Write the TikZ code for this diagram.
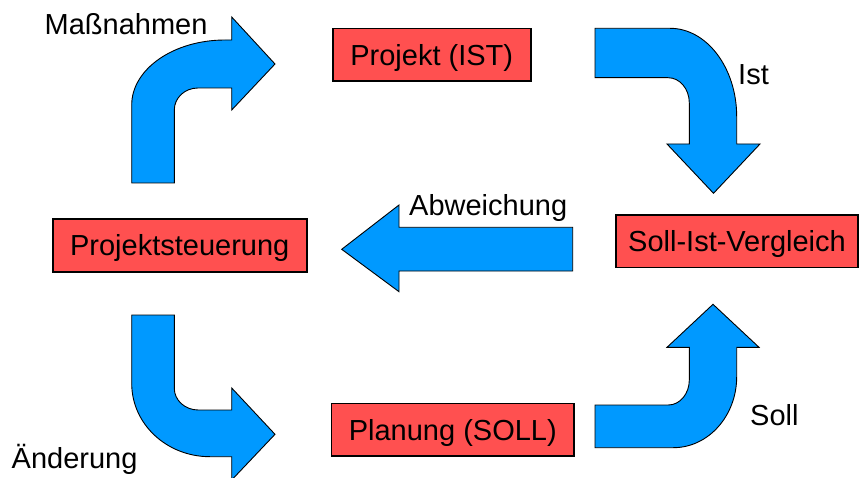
\documentclass[tikz,border=0pt]{standalone}
\usepackage{fontspec}
\setmainfont{Liberation Sans}
\definecolor{boxred}{RGB}{255,80,80}
\definecolor{arrowblue}{RGB}{0,153,255}
\tikzset{
  stage/.style={draw=black, line width=1.6pt, fill=boxred, inner sep=0pt,
    minimum height=52.5pt, text height=20.8pt, text depth=0pt,
    font=\fontsize{29}{33}\selectfont},
  blockarrow/.style={draw=black, line width=0.9pt, fill=arrowblue, line join=miter},
  tag/.style={anchor=base west, inner sep=0pt, font=\fontsize{29}{33}\selectfont}
}
\begin{document}
\begin{tikzpicture}[x=1pt,y=-1pt]
\useasboundingbox (0,0) rectangle (861,478);

% process stages
\node[stage, minimum width=254pt] (steuer) at (179.7,245.5) {Projektsteuerung};
\node[stage, minimum width=198pt] (ist)    at (431.7,54.7)  {Projekt (IST)};
\node[stage, minimum width=242pt] (vgl)    at (737.0,241.3) {Soll-Ist-Vergleich};
\node[stage, minimum width=242.3pt] (plan) at (452.8,429.7) {Planung (SOLL)};

% Massnahmen: Projektsteuerung -> Projekt (IST)
\draw[blockarrow] (131.7,183) -- (131.7,105)
  .. controls (131.7,69.1) and (173.6,40) .. (225,40)
  -- (231.7,40) -- (231.7,17) -- (275,64) -- (231.7,110) -- (231.7,88)
  -- (198,88) .. controls (184.7,88) and (174.3,97.9) .. (174.3,110)
  -- (174.3,183) -- cycle;

% Ist: Projekt (IST) -> Soll-Ist-Vergleich
\draw[blockarrow] (595,28.3) -- (670,28.3)
  .. controls (706.8,28.3) and (736.7,67.9) .. (736.7,116.7)
  -- (736.7,144) -- (760,144) -- (713.5,193.3) -- (667,144) -- (689.3,144)
  -- (689.3,103) .. controls (689.3,88.8) and (679.8,77.7) .. (668,77.7)
  -- (595,77.7) -- cycle;

% Abweichung: Soll-Ist-Vergleich -> Projektsteuerung
\draw[blockarrow] (572.7,227.3) -- (399,227.3) -- (399,205) -- (341.7,249.3)
  -- (399,291.7) -- (399,271) -- (572.7,271) -- cycle;

% Aenderung: Projektsteuerung -> Planung (SOLL)
\draw[blockarrow] (131.7,315) -- (174.3,315) -- (174.3,388.3)
  .. controls (174.3,400.3) and (185.0,410) .. (198.3,410)
  -- (231.7,410) -- (231.7,388) -- (275,434.3) -- (231.7,480) -- (231.7,456.7)
  -- (210,456.7) .. controls (166.8,456.7) and (131.7,424.2) .. (131.7,383.3)
  -- cycle;

% Soll: Planung (SOLL) -> Soll-Ist-Vergleich
\draw[blockarrow] (595,447.7) -- (673.3,447.7)
  .. controls (708.3,447.7) and (736.7,415.9) .. (736.7,376.7)
  -- (736.7,347.3) -- (759,347.3) -- (713,304.3) -- (667,347.3) -- (689.3,347.3)
  -- (689.3,380) .. controls (689.3,393.8) and (679.9,405) .. (668.3,405)
  -- (595,405) -- cycle;

% arrow labels
\node[tag] (lmass) at (44.5,35)  {Maßnahmen};
\node[tag] (list)  at (738,85)   {Ist};
\node[tag] (labw)  at (409,215)  {Abweichung};
\node[tag] (lsoll) at (750,425)  {Soll};
\node[tag] (laend) at (11.5,468.3) {Änderung};
\end{tikzpicture}
\end{document}
